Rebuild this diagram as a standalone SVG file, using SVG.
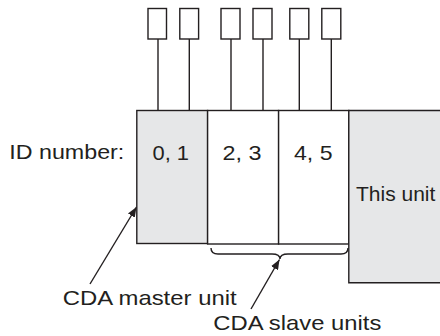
<svg xmlns="http://www.w3.org/2000/svg" width="440" height="336" viewBox="0 0 440 336">
<style>
.u{stroke:#231f20;stroke-width:1.4;}
.g{fill:#e6e7e8;}
.w{fill:#fff;}
.c{fill:#fff;stroke:#231f20;stroke-width:1.4;}
.l{stroke:#231f20;stroke-width:1.4;fill:none;}
text{font-family:"Liberation Sans",Arial,sans-serif;font-size:21px;fill:#231f20;}
</style>
<defs>
<marker id="ah" viewBox="0 0 10 8" refX="10" refY="4" markerWidth="10" markerHeight="8" markerUnits="userSpaceOnUse" orient="auto">
<path d="M0,0 L10,4 L0,8 Z" fill="#231f20"/>
</marker>
</defs>
<g id="connectors">
<line class="l" x1="158" y1="39" x2="158" y2="110"/>
<line class="l" x1="189.3" y1="39" x2="189.3" y2="110"/>
<line class="l" x1="231" y1="39" x2="231" y2="110"/>
<line class="l" x1="263" y1="39" x2="263" y2="110"/>
<line class="l" x1="299.3" y1="39" x2="299.3" y2="110"/>
<line class="l" x1="331.3" y1="39" x2="331.3" y2="110"/>
<line class="l" x1="90" y1="284" x2="136.5" y2="207" marker-end="url(#ah)"/>
<line class="l" x1="251" y1="309" x2="279.5" y2="259.5" marker-end="url(#ah)"/>
<path class="l" d="M211,248 Q211,254 218,254 L272,254 Q280,254 280,259 Q280,254 288,254 L341,254 Q348,254 348,248"/>
</g>
<g id="terminals">
<rect class="c" x="148" y="8.5" width="18.5" height="30.5"/>
<rect class="c" x="179.8" y="8.5" width="18.8" height="30.5"/>
<rect class="c" x="221" y="8.5" width="19" height="30.5"/>
<rect class="c" x="253" y="8.5" width="19" height="30.5"/>
<rect class="c" x="289.8" y="8.5" width="19" height="30.5"/>
<rect class="c" x="321.8" y="8.5" width="19" height="30.5"/>
</g>
<g id="master">
<rect class="u g" x="136.8" y="110.5" width="70.8" height="133"/>
<text x="152.5" y="159.5" textLength="36.5" lengthAdjust="spacingAndGlyphs">0, 1</text>
</g>
<g id="slave1">
<rect class="u w" x="207.6" y="110.5" width="71" height="133.5"/>
<text x="222.5" y="159.5" textLength="39" lengthAdjust="spacingAndGlyphs">2, 3</text>
</g>
<g id="slave2">
<rect class="u w" x="278.6" y="110.5" width="70.2" height="133.5"/>
<text x="294" y="159.5" textLength="38.5" lengthAdjust="spacingAndGlyphs">4, 5</text>
</g>
<g id="thisunit">
<path class="u g" d="M442,110.5 L348.8,110.5 L348.8,282.7 L442,282.7"/>
<text x="356" y="201">This unit</text>
</g>
<g id="labels">
<text x="9.3" y="158.5" textLength="115" lengthAdjust="spacingAndGlyphs">ID number:</text>
<text x="62.7" y="305" textLength="174" lengthAdjust="spacingAndGlyphs">CDA master unit</text>
<text x="213.3" y="330" textLength="168" lengthAdjust="spacingAndGlyphs">CDA slave units</text>
</g>
</svg>
